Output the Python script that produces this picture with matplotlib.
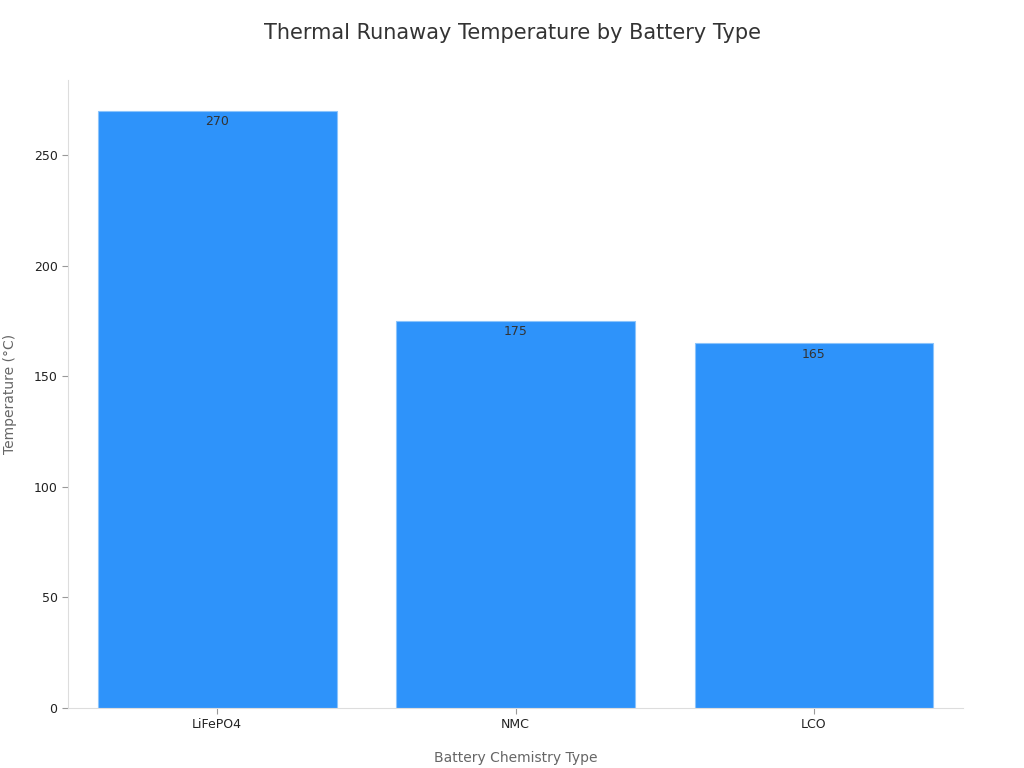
import matplotlib.pyplot as plt

categories = ['LiFePO4', 'NMC', 'LCO']
temps = [270, 175, 165]

fig = plt.figure(figsize=(10.24, 7.68), dpi=100)
ax = fig.add_axes([68/1024, 60/768, (963-68)/1024, (708-80)/768])

bars = ax.bar(range(len(categories)), temps, width=0.8, color='#2E93FA',
              edgecolor='#8cc4fb', linewidth=0.8)
for i, v in enumerate(temps):
    ax.text(i, v - 2, str(v), ha='center', va='top', fontsize=9, color='#333333')

ax.set_xticks(range(len(categories)))
ax.set_xticklabels(categories)
ax.set_xlim(-0.5, 2.5)
ax.set_ylim(0, 284)
ax.set_yticks([0, 50, 100, 150, 200, 250])
ax.tick_params(labelsize=9, colors='#222222', length=4)
ax.tick_params(axis='both', color='#999999')
for s in ['top', 'right']:
    ax.spines[s].set_visible(False)
for s in ['left', 'bottom']:
    ax.spines[s].set_color('#dddddd')

ax.set_xlabel('Battery Chemistry Type', fontsize=10, color='#666666', labelpad=14)
ax.set_ylabel('Temperature (°C)', fontsize=10, color='#666666', labelpad=12)
fig.text(0.5, 1 - 33/768, 'Thermal Runaway Temperature by Battery Type',
         ha='center', va='center', fontsize=15, color='#333333')

fig.savefig('out.png', dpi=100)
